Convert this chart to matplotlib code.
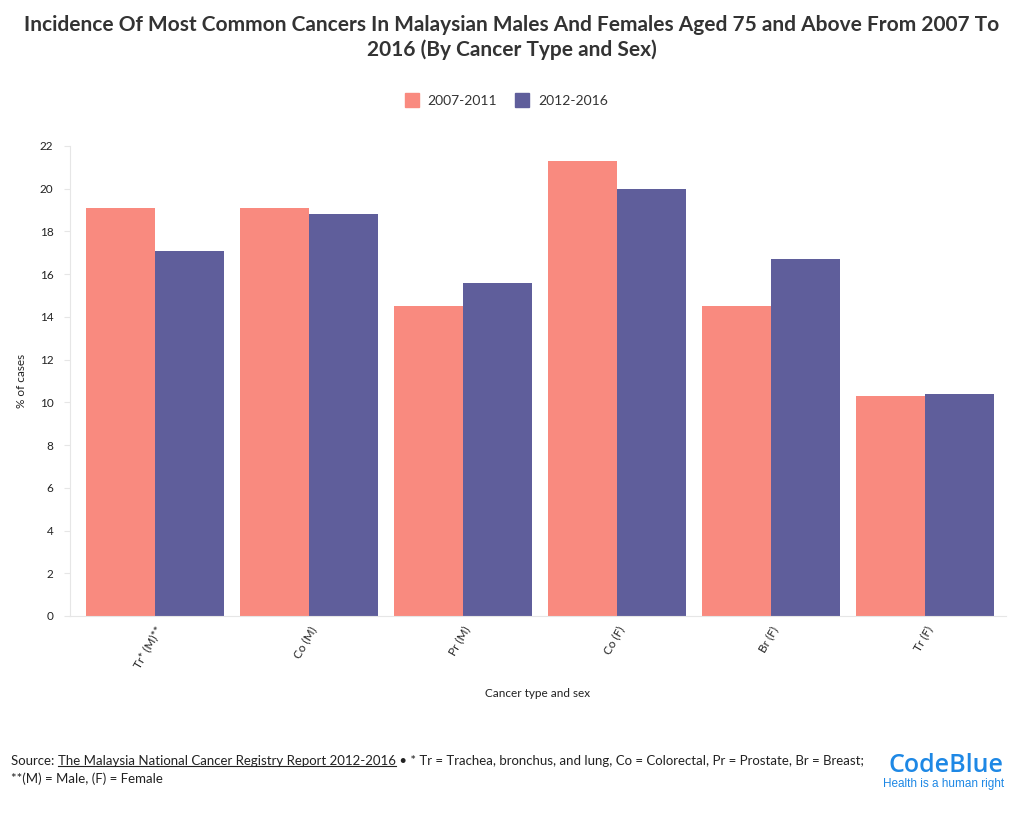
import matplotlib
matplotlib.use("Agg")
import matplotlib.pyplot as plt
import numpy as np
from matplotlib.lines import Line2D

categories = ["Tr* (M)**", "Co (M)", "Pr (M)", "Co (F)", "Br (F)", "Tr (F)"]
p2007 = [19.1, 19.1, 14.5, 21.3, 14.5, 10.3]
p2012 = [17.1, 18.8, 15.6, 20.0, 16.7, 10.4]
series_names = ["2007-2011", "2012-2016"]

C1 = "#F98A7F"
C2 = "#5F5E9B"
INK = "#222222"
GRID = "#E6E6E6"

plt.rcParams["font.family"] = ["Lato", "DejaVu Sans"]

fig = plt.figure(figsize=(10.2, 8.24), dpi=100)
ax = fig.add_axes([70 / 1020, 208 / 824, 936 / 1020, 470 / 824])

x = np.arange(len(categories))
w = 0.448
ax.bar(x - w / 2, p2007, width=w, color=C1, label=series_names[0])
ax.bar(x + w / 2, p2012, width=w, color=C2, label=series_names[1])

ax.set_xlim(-0.552, 5.526)
ax.set_ylim(0, 22)
ax.set_yticks(range(0, 23, 2))
ax.set_xticks(x)
ax.set_xticklabels(categories, rotation=60, ha="right", rotation_mode="anchor",
                   fontsize=8.5, color=INK)
ax.tick_params(axis="x", length=0, pad=6)
ax.tick_params(axis="y", length=4, color=GRID, labelsize=8.5, labelcolor=INK, pad=8)
for s in ("top", "right"):
    ax.spines[s].set_visible(False)
ax.spines["left"].set_color(GRID)
ax.spines["bottom"].set_color(GRID)
ax.set_ylabel("% of cases", fontsize=8.5, color=INK, labelpad=9)
ax.set_xlabel("Cancer type and sex", fontsize=8.5, color=INK, labelpad=13)

fig.text(0.502, 1 - 25 / 824, "Incidence Of Most Common Cancers In Malaysian Males And Females Aged 75 and Above From 2007 To",
         ha="center", va="center", fontsize=15, fontweight="bold", color="#333333")
fig.text(0.502, 1 - 50 / 824, "2016 (By Cancer Type and Sex)",
         ha="center", va="center", fontsize=15, fontweight="bold", color="#333333")

handles = [Line2D([], [], marker="s", ls="", ms=10, mfc=C1, mec=C1),
           Line2D([], [], marker="s", ls="", ms=10, mfc=C2, mec=C2)]
fig.legend(handles, series_names, loc="center", bbox_to_anchor=(503 / 1020, 1 - 101 / 824),
           ncol=2, frameon=False, fontsize=10, handletextpad=0.15, columnspacing=0.8,
           labelcolor="#333333")

# footer with underlined link
fig.canvas.draw()
r = fig.canvas.get_renderer()
fs = 9.5
y1 = 1 - 761 / 824
xpos = 11 / 1020
parts = [("Source: ", False),
         ("The Malaysia National Cancer Registry Report 2012-2016", True),
         (" • * Tr = Trachea, bronchus, and lung, Co = Colorectal, Pr = Prostate, Br = Breast;", False)]
for txt, ul in parts:
    t = fig.text(xpos, y1, txt, ha="left", va="center", fontsize=fs, color=INK)
    bb = t.get_window_extent(r).transformed(fig.transFigure.inverted())
    if ul:
        fig.add_artist(Line2D([bb.x0, bb.x1], [bb.y0 + 0.001, bb.y0 + 0.001],
                              transform=fig.transFigure, color=INK, lw=0.8))
    xpos = bb.x1
fig.text(11 / 1020, 1 - 779 / 824, "**(M) = Male, (F) = Female", ha="left", va="center",
         fontsize=fs, color=INK)

fig.text(1004 / 1020, 1 - 766 / 824, "CodeBlue", ha="right", va="center", fontsize=18,
         fontweight="semibold", color="#1E88E5", family=["Open Sans", "DejaVu Sans"])
fig.text(1004 / 1020, 1 - 784 / 824, "Health is a human right", ha="right", va="center",
         fontsize=8.5, color="#1E88E5", family=["Liberation Sans", "DejaVu Sans"])

fig.savefig("out.png", dpi=100)
